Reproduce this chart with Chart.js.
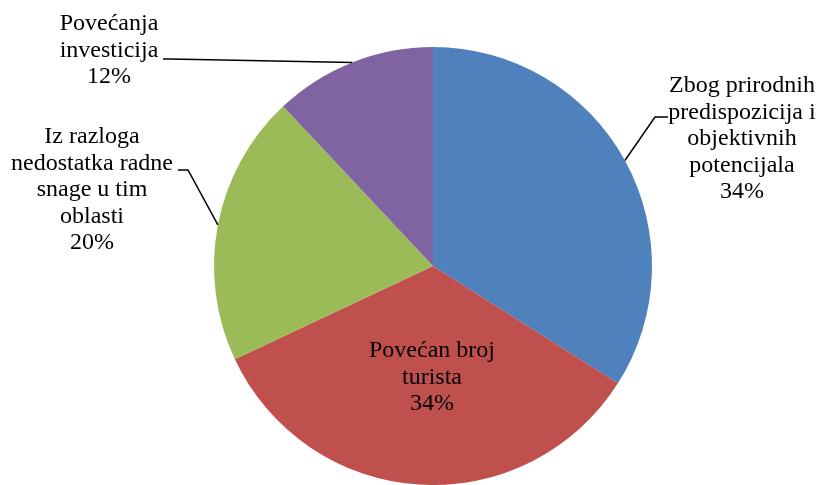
<!DOCTYPE html>
<html>
<head>
<meta charset="utf-8">
<script src="https://cdn.jsdelivr.net/npm/chart.js@4"></script>
<style>
  html, body { margin: 0; padding: 0; background: #fff; }
  #wrap { width: 821px; height: 485px; position: relative; }
</style>
</head>
<body>
<div id="wrap"><canvas id="c"></canvas></div>
<script>
// ---- data ----
const categories = [
  ["Zbog prirodnih", "predispozicija i", "objektivnih", "potencijala"],
  ["Povećan broj", "turista"],
  ["Iz razloga", "nedostatka radne", "snage u tim", "oblasti"],
  ["Povećanja", "investicija"]
];
const values = [34, 34, 20, 12];
const percentLabels = ["34%", "34%", "20%", "12%"];
const colors = ["#4F81BD", "#C0504D", "#9BBB59", "#8064A2"];

// ---- label layout (text anchor, elbow, end of leader) ----
const labelLayout = [
  { x: 742, y: 92,  inside: false, elbow: [655, 117], end: [668, 117] },
  { x: 432, y: 357, inside: true },
  { x: 92,  y: 143, inside: false, elbow: [188, 170], end: [178, 170] },
  { x: 109, y: 30,  inside: false, elbow: [170, 59],  end: [163, 59] }
];
const lineGap = 26.6;
const FONT = '24px "Liberation Serif", "Times New Roman", serif';

const labelPlugin = {
  id: 'pieLabels',
  afterDatasetsDraw(chart) {
    const ctx = chart.ctx;
    const meta = chart.getDatasetMeta(0);
    ctx.save();
    ctx.font = FONT;
    ctx.fillStyle = '#000';
    ctx.textAlign = 'center';
    ctx.textBaseline = 'alphabetic';
    meta.data.forEach((arc, i) => {
      const L = labelLayout[i];
      const lines = categories[i].concat([percentLabels[i]]);
      lines.forEach((t, k) => ctx.fillText(t, L.x, L.y + k * lineGap));
      if (!L.inside) {
        const p = arc.getProps(['x', 'y', 'startAngle', 'endAngle', 'outerRadius'], true);
        const mid = (p.startAngle + p.endAngle) / 2;
        const ax = p.x + Math.cos(mid) * p.outerRadius;
        const ay = p.y + Math.sin(mid) * p.outerRadius;
        ctx.beginPath();
        ctx.strokeStyle = '#000';
        ctx.lineWidth = 1.5;
        ctx.moveTo(ax, ay);
        ctx.lineTo(L.elbow[0], L.elbow[1]);
        ctx.lineTo(L.end[0], L.end[1]);
        ctx.stroke();
      }
    });
    ctx.restore();
  }
};

function build() {
  new Chart(document.getElementById('c'), {
    type: 'pie',
    data: {
      labels: categories.map(c => c.join(' ')),
      datasets: [{
        data: values,
        backgroundColor: colors,
        borderWidth: 0,
        hoverOffset: 0
      }]
    },
    options: {
      responsive: true,
      maintainAspectRatio: false,
      animation: false,
      layout: { padding: { top: 47, bottom: 0, left: 45, right: 0 } },
      plugins: {
        legend: { display: false },
        tooltip: { enabled: false }
      }
    },
    plugins: [labelPlugin]
  });
}
if (document.fonts && document.fonts.load) {
  document.fonts.load(FONT, 'Povećan').then(build, build);
} else {
  build();
}
</script>
</body>
</html>
